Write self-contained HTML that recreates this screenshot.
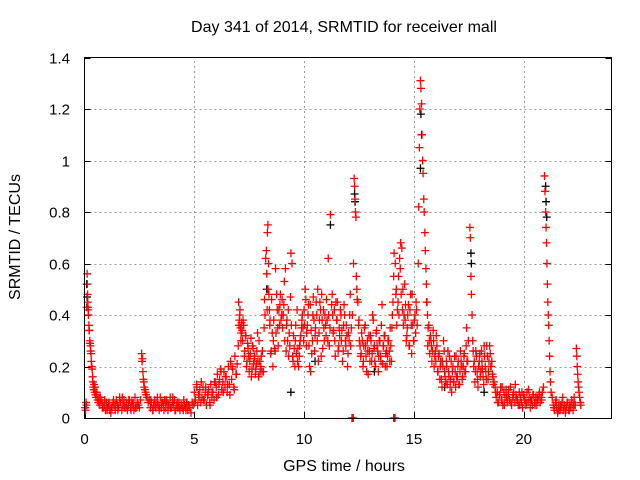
<!DOCTYPE html>
<html><head><meta charset="utf-8"><style>
html,body{margin:0;padding:0;background:#fff}
svg{display:block;font-family:"Liberation Sans",sans-serif}
</style></head><body>
<svg id="chart" width="640" height="480" viewBox="0 0 640 480" xmlns="http://www.w3.org/2000/svg">
<text x="344" y="32" font-size="16" text-anchor="middle">Day 341 of 2014, SRMTID for receiver mall</text>
<g id="grid"></g>
<g id="ticks"></g>
<g id="black"></g>
<g id="red"></g>
<rect x="84.5" y="57.5" width="527" height="361" fill="none" stroke="#000" stroke-width="1"/>
<text x="344" y="471" font-size="16" text-anchor="middle">GPS time / hours</text>
<text x="20" y="237" font-size="16" text-anchor="middle" transform="rotate(-90 20 237)">SRMTID / TECUs</text>
</svg>
<script>
const xTicks=[0,5,10,15,20];
const yTicks=[0,0.2,0.4,0.6,0.8,1,1.2,1.4];
const yTickLabels=["0","0.2","0.4","0.6","0.8","1","1.2","1.4"];
const redTimes=[
0.03,0.05,0.07,0.09,0.1,0.12,0.13,0.14,0.15,0.16,0.17,0.18,0.2,0.21,0.22,0.24,0.25,0.27,0.28,0.3,0.31,0.33,0.35,0.37,0.38,0.4,0.42,0.44,0.46,0.48,0.5,0.53,0.56,0.6,0.63,0.67,
0.7,0.75,0.8,0.85,0.9,0.95,1.0,1.05,1.1,1.15,1.2,1.25,1.3,1.35,1.4,1.45,1.5,1.55,1.6,1.65,1.7,1.75,1.8,1.85,1.9,1.95,2.0,2.05,2.1,2.15,2.2,2.25,2.3,2.35,2.4,2.45,2.5,2.55,
2.6,2.62,2.64,2.66,2.68,2.7,2.72,2.75,2.78,2.8,2.85,2.9,2.95,
3.0,3.05,3.1,3.15,3.2,3.25,3.3,3.35,3.4,3.45,3.5,3.55,3.6,3.65,3.7,3.75,3.8,3.85,3.9,3.95,4.0,4.05,4.1,4.15,4.2,4.25,4.3,4.35,4.4,4.45,4.5,4.55,4.6,4.65,4.7,4.75,4.8,4.85,4.9,4.95,
5.0,5.05,5.1,5.15,5.2,5.25,5.3,5.35,5.4,5.45,5.5,5.55,5.6,5.65,5.7,5.75,5.8,5.85,5.9,5.95,6.0,6.05,6.1,6.15,6.2,6.25,6.3,6.35,6.4,6.45,6.5,6.55,6.6,6.65,6.7,6.75,6.8,6.85,6.9,6.95,
7.0,7.02,7.05,7.08,7.1,7.13,7.15,7.2,7.25,7.3,7.35,7.4,7.45,7.5,7.55,7.6,7.65,7.7,7.75,7.8,7.85,7.9,7.95,8.0,8.05,8.1,
8.15,8.18,8.2,8.22,8.25,8.28,8.3,8.33,8.35,8.38,8.4,8.42,8.45,8.5,8.55,8.6,8.65,8.7,8.75,8.8,8.85,8.9,8.95,9.0,9.05,9.1,9.15,9.2,9.25,9.3,9.35,9.4,9.45,9.5,9.55,9.6,9.65,9.7,9.75,9.8,9.85,9.9,9.95,
10.0,10.05,10.1,10.15,10.2,10.25,10.3,10.35,10.4,10.45,10.5,10.55,10.6,10.65,10.7,10.75,10.8,10.85,10.9,10.95,11.0,11.05,11.1,11.15,11.2,11.25,11.3,11.35,11.4,11.45,11.5,11.55,11.6,11.65,11.7,11.75,11.8,11.85,11.9,11.95,
12.0,12.05,12.1,12.15,12.2,12.25,12.28,12.3,12.32,12.34,12.36,12.38,12.4,12.45,12.5,12.55,12.6,12.65,12.7,12.75,12.8,12.85,12.9,12.95,13.0,13.05,13.1,13.15,13.2,13.25,13.3,13.35,13.4,13.45,13.5,13.55,13.6,13.65,13.7,13.75,13.8,13.85,13.9,13.95,
14.0,14.05,14.1,14.15,14.2,14.25,14.3,14.35,14.4,14.45,14.5,14.55,14.6,14.65,14.7,14.75,14.8,14.85,14.9,14.95,15.0,15.05,15.1,
15.2,15.22,15.25,15.27,15.3,15.32,15.35,15.37,15.4,15.42,15.45,15.47,15.5,15.52,15.55,15.57,15.6,15.62,15.65,15.7,15.75,15.8,15.85,15.9,15.95,
16.0,16.05,16.1,16.15,16.2,16.25,16.3,16.35,16.4,16.45,16.5,16.55,16.6,16.65,16.7,16.75,16.8,16.85,16.9,16.95,17.0,17.05,17.1,17.15,17.2,17.25,17.3,17.35,17.4,17.45,
17.55,17.57,17.6,17.62,17.65,17.68,17.7,17.75,17.8,17.85,17.9,17.95,18.0,18.05,18.1,18.15,18.2,18.25,18.3,18.35,18.4,18.45,18.5,18.55,18.6,18.65,
18.7,18.75,18.8,18.85,18.9,18.95,19.0,19.05,19.1,19.15,19.2,19.25,19.3,19.35,19.4,19.45,19.5,19.55,19.6,19.65,19.7,19.75,19.8,19.85,19.9,19.95,20.0,20.05,20.1,20.15,20.2,20.25,20.3,20.35,20.4,20.45,20.5,20.55,20.6,20.65,20.7,20.75,20.8,20.85,20.9,
20.95,20.97,21.0,21.02,21.04,21.06,21.08,21.1,21.12,21.14,21.16,21.18,21.2,21.22,21.25,21.3,
21.35,21.4,21.45,21.5,21.55,21.6,21.65,21.7,21.75,21.8,21.85,21.9,21.95,22.0,22.05,22.1,22.15,22.2,22.25,22.3,22.35,
22.4,22.42,22.44,22.46,22.48,22.5,22.52,22.55,22.58,22.6,
12.18,12.2,12.22,12.24,14.08,14.1,14.12,14.14
];
const redValues=[
0.04,0.03,0.06,0.05,0.43,0.56,0.52,0.48,0.45,0.43,0.42,0.40,0.36,0.34,0.34,0.30,0.29,0.28,0.26,0.25,0.22,0.20,0.19,0.16,0.14,0.12,0.11,0.13,0.10,0.12,0.09,0.08,0.10,0.07,0.06,0.08,
0.05,0.07,0.06,0.04,0.05,0.03,0.06,0.04,0.05,0.03,0.02,0.04,0.06,0.05,0.03,0.07,0.05,0.04,0.08,0.06,0.03,0.05,0.07,0.04,0.06,0.03,0.05,0.07,0.04,0.06,0.05,0.03,0.08,0.04,0.06,0.05,0.04,0.07,
0.25,0.22,0.23,0.18,0.15,0.14,0.12,0.11,0.10,0.09,0.08,0.06,0.07,
0.04,0.06,0.03,0.05,0.07,0.04,0.06,0.05,0.03,0.08,0.04,0.06,0.05,0.07,0.04,0.06,0.03,0.05,0.08,0.04,0.06,0.05,0.07,0.03,0.05,0.04,0.06,0.03,0.05,0.04,0.03,0.05,0.04,0.06,0.03,0.05,0.04,0.02,0.06,0.05,
0.10,0.07,0.13,0.05,0.09,0.11,0.06,0.08,0.12,0.07,0.10,0.05,0.09,0.11,0.06,0.13,0.08,0.10,0.07,0.14,0.12,0.17,0.09,0.15,0.19,0.11,0.14,0.18,0.12,0.16,0.10,0.20,0.13,0.22,0.15,0.19,0.12,0.24,0.17,0.21,
0.28,0.45,0.38,0.42,0.35,0.33,0.37,0.30,0.36,0.26,0.32,0.22,0.27,0.18,0.25,0.16,0.28,0.21,0.24,0.19,0.26,0.22,0.30,0.18,0.24,0.26,
0.18,0.35,0.46,0.40,0.62,0.65,0.56,0.72,0.75,0.60,0.48,0.42,0.38,0.26,0.33,0.30,0.27,0.58,0.48,0.35,0.42,0.44,0.38,0.46,0.40,0.53,0.58,0.36,0.30,0.24,0.28,0.64,0.60,0.22,0.27,0.30,0.25,0.22,0.20,0.28,0.32,0.38,0.35,
0.42,0.50,0.28,0.36,0.44,0.20,0.18,0.25,0.40,0.38,0.32,0.45,0.30,0.22,0.38,0.42,0.48,0.27,0.35,0.40,0.32,0.38,0.62,0.28,0.79,0.44,0.40,0.34,0.30,0.45,0.38,0.26,0.35,0.42,0.30,0.22,0.36,0.40,0.28,0.32,
0.25,0.30,0.48,0.35,0.40,0.60,0.93,0.90,0.85,0.80,0.78,0.55,0.50,0.45,0.38,0.28,0.25,0.30,0.22,0.35,0.28,0.18,0.26,0.32,0.22,0.30,0.25,0.38,0.28,0.20,0.34,0.26,0.24,0.30,0.22,0.44,0.28,0.32,0.20,0.26,0.24,0.30,0.22,0.28,
0.35,0.45,0.64,0.60,0.50,0.42,0.55,0.62,0.68,0.66,0.50,0.40,0.38,0.30,0.35,0.44,0.28,0.48,0.25,0.36,0.30,0.40,0.45,
0.60,0.82,1.05,1.20,1.31,1.28,1.22,1.10,1.00,0.95,0.85,0.80,0.72,0.65,0.58,0.52,0.45,0.40,0.35,0.30,0.32,0.28,0.26,0.30,0.24,
0.22,0.28,0.18,0.25,0.20,0.15,0.22,0.30,0.18,0.14,0.20,0.26,0.16,0.12,0.22,0.18,0.14,0.24,0.12,0.16,0.20,0.13,0.18,0.22,0.15,0.20,0.25,0.18,0.35,0.22,
0.74,0.70,0.55,0.48,0.40,0.30,0.26,0.22,0.18,0.24,0.15,0.20,0.25,0.18,0.22,0.16,0.28,0.20,0.15,0.24,0.18,0.28,0.20,0.22,0.16,0.14,
0.12,0.08,0.10,0.06,0.09,0.12,0.07,0.05,0.10,0.08,0.11,0.06,0.09,0.07,0.12,0.05,0.08,0.10,0.06,0.09,0.07,0.05,0.10,0.08,0.06,0.04,0.09,0.07,0.05,0.10,0.06,0.08,0.04,0.07,0.05,0.09,0.06,0.08,0.05,0.07,0.09,0.06,0.08,0.10,0.12,
0.94,0.88,0.80,0.74,0.68,0.60,0.52,0.45,0.40,0.36,0.30,0.24,0.18,0.14,0.10,0.08,
0.05,0.03,0.06,0.04,0.02,0.05,0.03,0.04,0.06,0.03,0.05,0.02,0.04,0.06,0.03,0.05,0.04,0.06,0.03,0.08,0.05,
0.27,0.24,0.20,0.17,0.14,0.12,0.10,0.08,0.06,0.05,
0.0,0.0,0.0,0.0,0.0,0.0,0.0,0.0
];
const denseTimes=[
0.72,0.82,0.92,1.02,1.12,1.22,1.32,1.42,1.52,1.62,1.72,1.82,1.92,2.02,2.12,2.22,2.32,2.42,
3.02,3.12,3.22,3.32,3.42,3.52,3.62,3.72,3.82,3.92,4.02,4.12,4.22,4.32,4.42,4.52,4.62,4.72,
5.02,5.12,5.22,5.32,5.42,5.52,5.62,5.72,5.82,5.92,6.02,6.12,6.22,6.32,6.42,6.52,6.62,6.72,6.82,6.92,
7.03,7.07,7.12,7.18,7.22,7.28,7.33,7.38,7.43,7.48,7.53,7.58,7.63,7.68,7.73,7.78,7.83,7.88,7.93,7.98,8.03,8.08,
8.32,8.36,8.44,8.48,8.52,8.58,8.62,8.68,8.72,8.78,8.82,8.88,8.92,8.98,9.02,9.08,9.12,9.18,9.22,9.28,9.32,9.38,9.42,9.48,9.52,9.58,9.62,9.68,9.72,9.78,9.82,9.88,9.92,9.98,
10.02,10.08,10.12,10.18,10.22,10.28,10.32,10.38,10.42,10.48,10.52,10.58,10.62,10.68,10.72,10.78,10.82,10.88,10.92,10.98,11.02,11.08,11.12,11.18,11.28,11.32,11.38,11.42,11.48,11.52,11.58,11.62,11.68,11.72,11.78,11.82,11.88,11.92,11.98,
12.02,12.08,12.12,12.42,12.48,12.52,12.58,12.62,12.68,12.72,12.78,12.82,12.88,12.92,12.98,13.02,13.08,13.12,13.18,13.22,13.28,13.32,13.38,13.42,13.48,13.52,13.58,13.62,13.68,13.72,13.78,13.82,13.88,13.92,13.98,
14.02,14.08,14.18,14.22,14.28,14.32,14.38,14.42,14.48,14.52,14.58,14.62,14.68,14.72,14.78,14.82,14.88,14.92,14.98,15.02,15.08,15.12,15.15,
15.58,15.63,15.68,15.72,15.78,15.82,15.88,15.92,15.98,16.02,16.08,16.12,16.18,16.22,16.28,16.32,16.38,16.42,16.48,16.52,16.58,16.62,16.68,16.72,16.78,16.82,16.88,16.92,16.98,17.02,17.08,17.12,17.18,17.22,17.28,17.32,17.38,17.42,17.48,
17.72,17.78,17.82,17.88,17.92,17.98,18.02,18.08,18.12,18.18,18.22,18.28,18.32,18.38,18.42,18.48,18.52,18.58,18.62,
18.72,18.82,18.92,19.02,19.12,19.22,19.32,19.42,19.52,19.62,19.72,19.82,19.92,20.02,20.12,20.22,20.32,20.42,20.52,20.62,20.72,20.82,
21.38,21.48,21.58,21.68,21.78,21.88,21.98,22.08,22.18,22.28
];
const denseValues=[
0.08,0.04,0.07,0.03,0.06,0.04,0.07,0.05,0.03,0.06,0.08,0.04,0.05,0.07,0.03,0.06,0.04,0.05,
0.07,0.03,0.05,0.08,0.04,0.06,0.03,0.07,0.05,0.04,0.08,0.03,0.06,0.04,0.05,0.07,0.03,0.05,
0.06,0.12,0.08,0.14,0.07,0.12,0.09,0.05,0.10,0.14,0.08,0.13,0.18,0.10,0.16,0.13,0.09,0.20,0.11,0.17,
0.36,0.40,0.30,0.34,0.38,0.24,0.32,0.20,0.29,0.24,0.22,0.31,0.19,0.27,0.23,0.17,0.21,0.33,0.16,0.22,0.20,0.18,
0.42,0.50,0.36,0.25,0.46,0.20,0.38,0.26,0.33,0.42,0.28,0.36,0.48,0.40,0.35,0.44,0.30,0.26,0.38,0.42,0.33,0.47,0.36,0.24,0.32,0.20,0.36,0.42,0.27,0.24,0.30,0.35,0.40,0.30,
0.36,0.46,0.33,0.40,0.28,0.44,0.34,0.30,0.47,0.26,0.35,0.40,0.50,0.33,0.45,0.24,0.38,0.42,0.30,0.36,0.46,0.30,0.40,0.35,0.48,0.33,0.42,0.24,0.38,0.45,0.28,0.32,0.40,0.34,0.26,0.44,0.30,0.36,0.20,
0.33,0.40,0.28,0.46,0.36,0.30,0.24,0.33,0.20,0.28,0.36,0.24,0.30,0.17,0.26,0.32,0.22,0.40,0.27,0.22,0.33,0.28,0.18,0.30,0.24,0.36,0.21,0.28,0.32,0.25,0.20,0.30,0.26,0.35,0.22,
0.40,0.55,0.48,0.36,0.45,0.40,0.58,0.48,0.42,0.36,0.52,0.44,0.32,0.40,0.28,0.42,0.36,0.48,0.30,0.38,0.33,0.42,0.36,
0.45,0.28,0.36,0.25,0.30,0.22,0.34,0.20,0.26,0.32,0.18,0.24,0.15,0.22,0.12,0.20,0.26,0.16,0.22,0.13,0.18,0.24,0.15,0.10,0.20,0.14,0.18,0.24,0.16,0.22,0.13,0.26,0.20,0.16,0.24,0.18,0.28,0.22,0.30,
0.20,0.14,0.26,0.18,0.12,0.22,0.16,0.26,0.19,0.13,0.24,0.18,0.28,0.15,0.22,0.25,0.20,0.17,0.13,
0.10,0.06,0.09,0.12,0.05,0.08,0.11,0.06,0.09,0.13,0.07,0.05,0.10,0.08,0.06,0.11,0.07,0.09,0.05,0.08,0.10,0.07,
0.04,0.07,0.03,0.05,0.08,0.04,0.06,0.03,0.07,0.05
];
const blackTimes=[0.1,0.12,8.3,9.4,11.2,12.3,12.32,15.3,15.32,15.35,17.6,17.62,21.0,21.02,21.05,10.5,13.2,16.4,18.2];
const blackValues=[0.52,0.47,0.50,0.10,0.75,0.87,0.84,0.97,1.18,1.10,0.64,0.60,0.90,0.84,0.78,0.22,0.18,0.12,0.10];

const X0=84.5,X1=611.5,Y0=418,Y1=57.5,XMAX=24,YMAX=1.4;
const sx=t=>X0+(X1-X0)*t/XMAX;
const sy=v=>Y0-(Y0-Y1)*v/YMAX;
const NS="http://www.w3.org/2000/svg";
const grid=document.getElementById('grid'),ticks=document.getElementById('ticks');
function mk(tag,attrs,parent){const e=document.createElementNS(NS,tag);for(const k in attrs)e.setAttribute(k,attrs[k]);parent.appendChild(e);return e;}
xTicks.forEach(t=>{
  const x=Math.round(sx(t))+0.5;
  if(t>0){const g=mk('line',{x1:x,x2:x,y1:Y0,y2:Y1,stroke:'#999','stroke-dasharray':'2,3'},grid);
  
  }
  const l=mk('text',{x:sx(t),y:444,'font-size':15,'text-anchor':'middle'},ticks);
  l.textContent=t;
  
  
  mk('line',{x1:x,x2:x,y1:Y0,y2:Y0-6,stroke:'#000'},ticks);
});
yTicks.forEach((v,i)=>{
  const y=Math.round(sy(v))+0.5;
  if(v>0&&v<1.4){const g=mk('line',{x1:X0,x2:X1,y1:y,y2:y,stroke:'#999','stroke-dasharray':'2,3'},grid);
  
  }
  const l=mk('text',{x:70,y:y+5,'font-size':15,'text-anchor':'end'},ticks);
  l.textContent=yTickLabels[i];
  
  
  mk('line',{x1:X0,x2:X0+6,y1:y,y2:y,stroke:'#000'},ticks);
  mk('line',{x1:X1,x2:X1-6,y1:y,y2:y,stroke:'#000'},ticks);
});
function plus(t,v,color,parent){
  const x=sx(t),y=sy(v);
  const p=mk('path',{d:`M${x-4},${y}H${x+4}M${x},${y-4}V${y+4}`,stroke:color,'stroke-width':1.3,fill:'none'},parent);
  
  
}
const bg=document.getElementById('black'),rg=document.getElementById('red');
blackTimes.forEach((t,i)=>plus(t,blackValues[i],'#000',bg));
redTimes.forEach((t,i)=>plus(t,redValues[i],'#f00',rg));
denseTimes.forEach((t,i)=>plus(t,denseValues[i],'#f00',rg));
</script>
</body></html>
